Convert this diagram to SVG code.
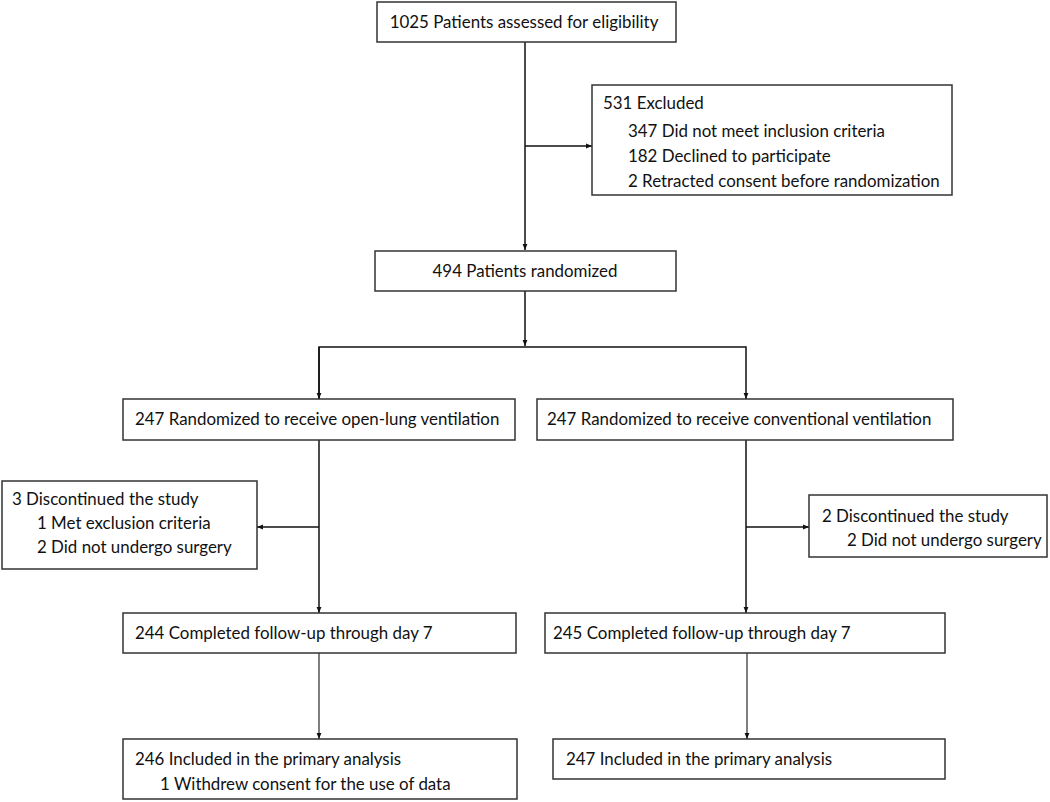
<svg xmlns="http://www.w3.org/2000/svg" width="1050" height="802" viewBox="0 0 1050 802">
<style>
.box{fill:#fff;stroke:#333;stroke-width:1.5}
.t{font-family:Lato,"Liberation Sans",sans-serif;font-size:16.9px;fill:#111}
.c{fill:none;stroke:#111;stroke-width:1.5}
.g{fill:none;stroke:#555;stroke-width:1.5}
</style>
<defs>
<marker id="a" viewBox="0 0 10 10" refX="10" refY="5" markerWidth="6" markerHeight="6" markerUnits="userSpaceOnUse" orient="auto"><path d="M0,1 L10,5 L0,9 z" fill="#111"/></marker>
</defs>
<rect width="1050" height="802" fill="#fff"/>
<g id="connectors">
<path class="c" d="M525,42 V250" marker-end="url(#a)"/>
<path class="c" d="M525,146 H592" marker-end="url(#a)"/>
<path class="c" d="M525,291 V346" marker-end="url(#a)"/>
<path class="c" d="M319,399 V347 H746 V399" marker-end="url(#a)"/>
<path class="c" d="M319,347 V399" marker-end="url(#a)"/>
<path class="c" d="M319,440 V613" marker-end="url(#a)"/>
<path class="c" d="M319,527 H257" marker-end="url(#a)"/>
<path class="c" d="M746,440 V613" marker-end="url(#a)"/>
<path class="c" d="M746,527 H809" marker-end="url(#a)"/>
<path class="g" d="M319,653 V739" marker-end="url(#a)"/>
<path class="g" d="M747,653 V739" marker-end="url(#a)"/>
</g>
<g id="n1"><rect class="box" x="377" y="2" width="299" height="40"/><text class="t" x="524" y="28" text-anchor="middle">1025 Patients assessed for eligibility</text></g>
<g id="n2"><rect class="box" x="592" y="85" width="360" height="110"/>
<text class="t" x="603" y="109">531 Excluded</text>
<text class="t" x="628" y="137">347 Did not meet inclusion criteria</text>
<text class="t" x="628" y="162">182 Declined to participate</text>
<text class="t" x="628" y="187">2 Retracted consent before randomization</text></g>
<g id="n3"><rect class="box" x="375" y="251" width="301" height="40"/><text class="t" x="525" y="277" text-anchor="middle">494 Patients randomized</text></g>
<g id="n4"><rect class="box" x="123" y="399" width="392" height="41"/><text class="t" x="135" y="425">247 Randomized to receive open-lung ventilation</text></g>
<g id="n5"><rect class="box" x="537" y="399" width="416" height="41"/><text class="t" x="547" y="425">247 Randomized to receive conventional ventilation</text></g>
<g id="n6"><rect class="box" x="2" y="481" width="255" height="88"/>
<text class="t" x="12" y="505">3 Discontinued the study</text>
<text class="t" x="37" y="529">1 Met exclusion criteria</text>
<text class="t" x="37" y="553">2 Did not undergo surgery</text></g>
<g id="n7"><rect class="box" x="809" y="495" width="238" height="62"/>
<text class="t" x="822" y="522">2 Discontinued the study</text>
<text class="t" x="847" y="546">2 Did not undergo surgery</text></g>
<g id="n8"><rect class="box" x="123" y="613" width="393" height="40"/><text class="t" x="135" y="639">244 Completed follow-up through day 7</text></g>
<g id="n9"><rect class="box" x="545" y="613" width="400" height="40"/><text class="t" x="553" y="639">245 Completed follow-up through day 7</text></g>
<g id="n10"><rect class="box" x="123" y="739" width="394" height="60"/>
<text class="t" x="135" y="765">246 Included in the primary analysis</text>
<text class="t" x="160" y="790">1 Withdrew consent for the use of data</text></g>
<g id="n11"><rect class="box" x="553" y="739" width="392" height="40"/><text class="t" x="566" y="765">247 Included in the primary analysis</text></g>
</svg>
